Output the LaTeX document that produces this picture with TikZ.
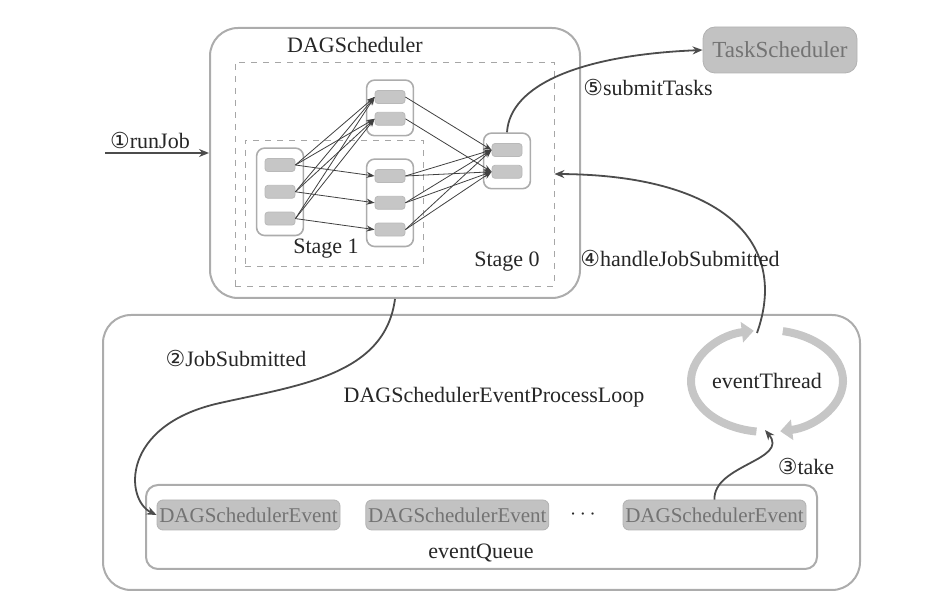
\documentclass[tikz,border=0pt]{standalone}
\usepackage{fontspec}
\setmainfont{Liberation Serif}
\newfontfamily\circfont{DejaVu Sans}
\usepackage{tikz}
\usetikzlibrary{arrows.meta,positioning,fit,calc}
\newcommand{\dgnum}[1]{{\circfont #1}}
\tikzset{
  dgbox/.style={
    rectangle, rounded corners=14pt, draw=gray!65, line width=1pt, inner sep=0pt
  },
  dgstage/.style={rectangle, draw=gray!70, dashed, line width=0.4pt, inner sep=0pt},
  dggroup/.style={
    rectangle, rounded corners=4pt, draw=gray!65, line width=0.8pt,
    inner xsep=4pt, inner ysep=5pt
  },
  dgtask/.style={
    rectangle, rounded corners=1.5pt, fill=gray!45, draw=gray!55,
    minimum width=15pt, minimum height=6.5pt, inner sep=0pt
  },
  dgevent/.style={
    rectangle, rounded corners=3pt, fill=gray!48, draw=gray!60,
    minimum width=91.5pt, minimum height=15pt, inner sep=0pt,
    text=black!55, font=\fontsize{10.5}{12}\selectfont
  },
  dgsched/.style={dgevent, rounded corners=6pt, minimum width=77pt, minimum height=23pt,
    font=\fontsize{11.5}{13}\selectfont},
  dgedge/.style={-{Stealth[length=4pt,width=3pt]}, draw=black!75, line width=0.4pt},
  dgflow/.style={-{Stealth[length=5pt,width=4pt]}, draw=gray!60!black, line width=0.9pt},
  dgcycle/.style={-{Triangle[length=6pt,width=10pt]}, draw=gray!45, line width=4pt},
  dglabel/.style={font=\fontsize{11}{13}\selectfont, text=black!85, inner sep=1pt},
}

\begin{document}
\begin{tikzpicture}[x=0.5pt, y=-0.5pt]
  \useasboundingbox (0,0) rectangle (928,609);

  % DAGScheduler and its stages
  \node (dag) [dgbox, fit={(210,28) (580,298)}] {};
  \node (dagtitle) [dglabel] at (355,45) {DAGScheduler};
  \node (stage0) [dgstage, fit={(235,62) (554,286)}] {};
  \node (stage1) [dgstage, fit={(245,140) (423,266)}] {};
  \node (st0label) [dglabel] at (507,262) {Stage 0};
  \node (st1label) [dglabel] at (326,249) {Stage 1};

  % tasks
  \node (s1a) [dgtask] at (280,165) {};
  \node (s1b) [dgtask, below=6.5pt of s1a] {};
  \node (s1c) [dgtask, below=6.5pt of s1b] {};
  \node (t1) [dgtask] at (390,97) {};
  \node (t2) [dgtask, below=4pt of t1] {};
  \node (l1) [dgtask] at (390,176) {};
  \node (l2) [dgtask, below=6.5pt of l1] {};
  \node (l3) [dgtask, below=6.5pt of l2] {};
  \node (r1) [dgtask] at (507,150) {};
  \node (r2) [dgtask, below=4pt of r1] {};
  \node (g1) [dggroup, fit=(s1a)(s1c)] {};
  \node (g2) [dggroup, fit=(t1)(t2)] {};
  \node (g3) [dggroup, fit=(l1)(l3)] {};
  \node (g4) [dggroup, fit=(r1)(r2)] {};

  \foreach \a in {s1a,s1b,s1c}
    \foreach \b in {t1,t2}
      \draw[dgedge] (\a.east) -- (\b.west);
  \draw[dgedge] (s1a.east) -- (l1.west);
  \draw[dgedge] (s1b.east) -- (l2.west);
  \draw[dgedge] (s1c.east) -- (l3.west);
  \draw[dgedge] (t1.east) -- (r1.west);
  \draw[dgedge] (t2.east) -- (r2.west);
  \foreach \a in {l1,l2,l3}
    \foreach \b in {r1,r2}
      \draw[dgedge] (\a.east) -- (\b.west);

  \node (ts) [dgsched] at (780,50) {TaskScheduler};

  % event loop
  \node (loop) [dgbox, fit={(103,315) (860,590)}] {};
  \node (looplabel) [dglabel] at (494,397) {DAGSchedulerEventProcessLoop};
  \node (queue) [dgbox, rounded corners=6pt, fit={(146,485) (817,569)}] {};
  \node (queuelabel) [dglabel] at (481,553) {eventQueue};
  \node (e1) [dgevent] at (248.5,515) {DAGSchedulerEvent};
  \node (e2) [dgevent, right=12.5pt of e1] {DAGSchedulerEvent};
  \node (dots) [dglabel] at (583,515) {$\cdots$};
  \node (e3) [dgevent] at (714.5,515) {DAGSchedulerEvent};

  \node (et) [dglabel] at (767,381) {eventThread};
  \draw[dgcycle] ($(et)+(262:38pt and 25.5pt)$)
    arc[start angle=262, end angle=100, x radius=38pt, y radius=25.5pt];
  \draw[dgcycle] ($(et)+(78:38pt and 25.5pt)$)
    arc[start angle=78, end angle=-80, x radius=38pt, y radius=25.5pt];
  \coordinate (ettop) at (757,333);
  \coordinate (etbot) at (765,430);
  \coordinate (jobin) at (105,153);

  % flows
  \draw[dgflow] (jobin) -- (jobin -| dag.west);
  \node (runjob) [dglabel] at (150,140) {\dgnum{①}runJob};
  \draw[dgflow] (dag.south) .. controls (385,375) and (300,385) .. (220,403)
    .. controls (120,425) and (125,500) .. (e1.west);
  \node (jobsub) [dglabel] at (236,358) {\dgnum{②}JobSubmitted};
  \draw[dgflow] (e3.north) .. controls (713,465) and (790,460) .. (etbot);
  \node (take) [dglabel] at (806,466) {\dgnum{③}take};
  \draw[dgflow] (ettop) .. controls (790,240) and (720,175) .. (stage0.east);
  \node (handle) [dglabel] at (680,258) {\dgnum{④}handleJobSubmitted};
  \draw[dgflow] (g4.north) .. controls (510,85) and (580,55) .. (ts.west);
  \node (submit) [dglabel] at (648,87) {\dgnum{⑤}submitTasks};
\end{tikzpicture}
\end{document}
